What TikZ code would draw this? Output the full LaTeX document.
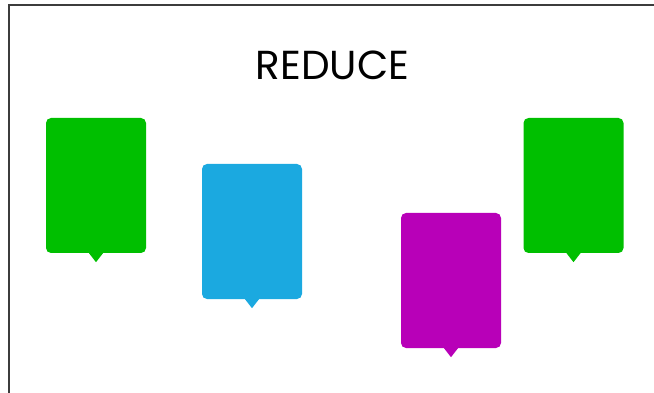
\documentclass[tikz,border=0pt]{standalone}
\usepackage{fontspec}
\setmainfont{Poppins}
\definecolor{boxgreen}{RGB}{0,191,0}
\definecolor{boxblue}{RGB}{27,169,224}
\definecolor{boxpurple}{RGB}{184,0,184}
\definecolor{framegray}{RGB}{60,60,60}
\begin{document}
\begin{tikzpicture}[x=1pt,y=-1pt,
  card/.style={rectangle, rounded corners=5pt, minimum width=100pt, minimum height=135pt, inner sep=0pt, draw=none},
  frameline/.style={draw=framegray, line width=2pt},
  title/.style={font=\fontsize{40.5}{46}\selectfont, inner sep=0pt}]
\useasboundingbox (0,0) rectangle (654,393);
\coordinate (ftop) at (654,5.5);
\coordinate (fcorner) at (8.5,5.5);
\coordinate (fbottom) at (8.5,393);
\draw[frameline] (ftop) -- (fcorner) -- (fbottom);
\node[title] (t) at (332.5,65) {REDUCE};
\newcommand{\pointer}[2]{\fill[#2] ([xshift=-7pt]#1.south) -- ([yshift=-9pt]#1.south) -- ([xshift=7pt]#1.south) -- cycle;}
\node[card, fill=boxgreen] (g1) at (96,185.5) {};
\pointer{g1}{boxgreen}
\node[card, fill=boxblue] (b1) at (252,231.5) {};
\pointer{b1}{boxblue}
\node[card, fill=boxpurple] (p1) at (451,280.5) {};
\pointer{p1}{boxpurple}
\node[card, fill=boxgreen] (g2) at (573.5,185.5) {};
\pointer{g2}{boxgreen}
\end{tikzpicture}
\end{document}
